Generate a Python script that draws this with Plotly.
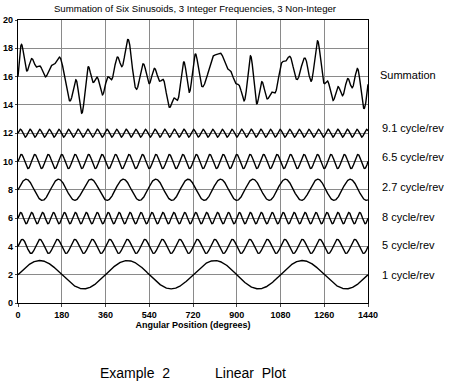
import numpy as np
import plotly.graph_objects as go

# Component sinusoids
labels = ["1 cycle/rev", "5 cycle/rev", "8 cycle/rev", "2.7 cycle/rev", "6.5 cycle/rev", "9.1 cycle/rev"]
frequencies = [1, 5, 8, 2.7, 6.5, 9.1]        # cycles per revolution
amplitudes = [1.0, 0.5, 0.4, 0.75, 0.5, 0.28]
offsets = [2, 4, 6, 8, 10, 12]
summation_offset = 16
summation_label = "Summation"
label_y = [2.0, 4.1, 6.1, 8.2, 10.35, 12.4]
summation_label_y = 16.1

x_ticks = [0, 180, 360, 540, 720, 900, 1080, 1260, 1440]
y_ticks = [0, 2, 4, 6, 8, 10, 12, 14, 16, 18, 20]

angle = np.linspace(0, 1440, 2881)
rev = angle / 360.0

fig = go.Figure()
total = np.zeros_like(angle)
for f, a, o in zip(frequencies, amplitudes, offsets):
    comp = a * np.sin(2 * np.pi * f * rev)
    total += comp
    fig.add_trace(go.Scatter(x=angle, y=o + comp, mode="lines",
                             line=dict(color="black", width=1.4), hoverinfo="skip"))
fig.add_trace(go.Scatter(x=angle, y=summation_offset + total, mode="lines",
                         line=dict(color="black", width=1.4), hoverinfo="skip"))

font = "Liberation Sans, Arial, sans-serif"
ann = []
for lab, y in zip(labels, label_y):
    ann.append(dict(x=1, xref="paper", y=y, yref="y", text=lab, showarrow=False,
                    xanchor="left", xshift=12, font=dict(size=11, color="black", family=font)))
ann.append(dict(x=1, xref="paper", y=summation_label_y, yref="y", text=summation_label,
                showarrow=False, xanchor="left", xshift=10, font=dict(size=11, color="black", family=font)))
ann.append(dict(x=(98 - 18) / 350, xref="paper", y=-(373 - 303) / 283, yref="paper",
                text="Example  2", showarrow=False, xanchor="left", yanchor="middle",
                font=dict(size=14, color="black", family=font)))
ann.append(dict(x=(213 - 18) / 350, xref="paper", y=-(373 - 303) / 283, yref="paper",
                text="Linear  Plot", showarrow=False, xanchor="left", yanchor="middle",
                font=dict(size=14, color="black", family=font)))

fig.update_layout(
    width=465, height=391,
    margin=dict(l=18, r=97, t=20, b=88),
    paper_bgcolor="white", plot_bgcolor="white",
    showlegend=False,
    title=dict(text="Summation of Six Sinusoids, 3 Integer Frequencies, 3 Non-Integer",
               x=195 / 465, xanchor="center", y=1 - 9 / 391, yanchor="middle",
               font=dict(size=9.6, color="black", family=font)),
    font=dict(family=font, color="black"),
    annotations=ann,
)
fig.update_xaxes(range=[0, 1440], tickvals=x_ticks, ticks="outside", ticklen=3,
                 automargin=False,
                 showgrid=True, gridcolor="#8a8a8a", gridwidth=1,
                 showline=True, linecolor="black", linewidth=1.2, mirror=True,
                 zeroline=False, tickfont=dict(size=9, color="black", weight="bold"),
                 title=dict(text="Angular Position (degrees)", standoff=2,
                            font=dict(size=9, color="black", weight="bold")))
fig.update_yaxes(range=[0, 20], tickvals=y_ticks, ticks="outside", ticklen=2,
                 automargin=False,
                 showgrid=True, gridcolor="#8a8a8a", gridwidth=1,
                 showline=True, linecolor="black", linewidth=1.2, mirror=True,
                 zeroline=False, tickfont=dict(size=9, color="black", weight="bold"))

fig.write_html("out.html", config={"displayModeBar": False},
               post_script="document.body.style.margin='0';")
